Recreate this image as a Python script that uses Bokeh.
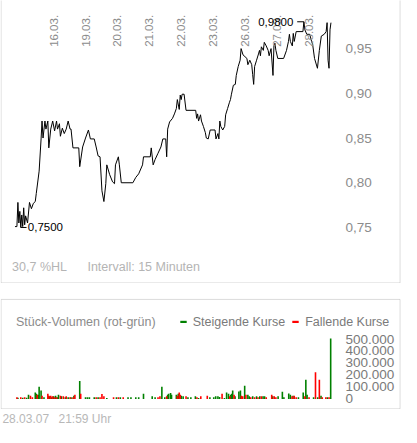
import math
from bokeh.plotting import figure
from bokeh.models import Range1d, ColumnDataSource, Label, BoxAnnotation, Legend, LegendItem
from bokeh.layouts import column
from bokeh.core.properties import value
from bokeh.embed import file_html
from bokeh.resources import INLINE

# ---------------- data ----------------
# time axis: trading-day index (day k starts at k; 16.03. = 1)
day_labels = ["16.03.", "19.03.", "20.03.", "21.03.", "22.03.", "23.03.", "26.03.", "27.03.", "28.03."]
day_pos = [1, 2, 3, 4, 5, 6, 7, 8, 9]

price_t = [-0.212, -0.152, -0.121, -0.091, -0.061, -0.030, 0.000, 0.030, 0.061, 0.091, 0.121, 0.182,
           0.242, 0.303, 0.364, 0.424, 0.455, 0.545, 0.606, 0.636, 0.667, 0.727, 0.758, 0.818, 0.848,
           0.909, 0.970, 1.030, 1.091, 1.121, 1.182, 1.212, 1.273, 1.333, 1.394, 1.455, 1.515, 1.545,
           1.606, 1.788, 1.818, 1.909, 2.000, 2.091, 2.152, 2.273, 2.333, 2.394, 2.455, 2.515, 2.576,
           2.636, 2.667, 2.758, 2.848, 2.909, 2.939, 3.030, 3.061, 3.121, 3.485, 3.576, 3.667, 3.788,
           3.818, 4.030, 4.061, 4.121, 4.182, 4.273, 4.364, 4.424, 4.515, 4.545, 4.576, 4.636, 4.727,
           4.788, 4.848, 4.879, 4.939, 4.970, 5.000, 5.030, 5.091, 5.152, 5.455, 5.485, 5.515, 5.545,
           5.606, 5.636, 5.697, 5.758, 5.788, 5.848, 5.909, 6.061, 6.091, 6.152, 6.182, 6.212, 6.242,
           6.303, 6.364, 6.394, 6.455, 6.515, 6.545, 6.576, 6.636, 6.697, 6.727, 6.788, 6.848, 6.879,
           6.939, 7.000, 7.061, 7.091, 7.152, 7.212, 7.242, 7.273, 7.303, 7.364, 7.424, 7.455, 7.485,
           7.515, 7.576, 7.606, 7.667, 7.727, 7.758, 7.818, 7.879, 7.909, 7.939, 7.970, 8.030, 8.212,
           8.303, 8.364, 8.394, 8.424, 8.485, 8.515, 8.545, 8.606, 8.818, 8.848, 8.879, 8.939, 9.030,
           9.091, 9.121, 9.182, 9.273, 9.333, 9.394, 9.485, 9.545, 9.576, 9.606, 9.636, 9.667, 9.697]
price_v = [0.751, 0.751, 0.778, 0.755, 0.768, 0.750, 0.764, 0.751, 0.772, 0.753, 0.763, 0.755,
           0.778, 0.771, 0.777, 0.779, 0.788, 0.813, 0.849, 0.869, 0.850, 0.869, 0.860, 0.869, 0.839,
           0.860, 0.869, 0.858, 0.869, 0.860, 0.866, 0.852, 0.861, 0.855, 0.860, 0.869, 0.860, 0.860,
           0.839, 0.839, 0.818, 0.840, 0.850, 0.859, 0.849, 0.849, 0.840, 0.830, 0.829, 0.791, 0.779,
           0.799, 0.820, 0.809, 0.801, 0.799, 0.820, 0.829, 0.820, 0.800, 0.800, 0.806, 0.810, 0.820,
           0.829, 0.829, 0.839, 0.820, 0.826, 0.833, 0.840, 0.849, 0.849, 0.829, 0.860, 0.868, 0.872,
           0.877, 0.883, 0.893, 0.882, 0.898, 0.893, 0.899, 0.899, 0.881, 0.881, 0.872, 0.877, 0.869,
           0.876, 0.869, 0.863, 0.856, 0.850, 0.849, 0.859, 0.859, 0.849, 0.855, 0.849, 0.869, 0.863,
           0.859, 0.863, 0.876, 0.883, 0.890, 0.893, 0.899, 0.909, 0.910, 0.920, 0.930, 0.937, 0.950,
           0.943, 0.941, 0.939, 0.932, 0.937, 0.932, 0.921, 0.910, 0.930, 0.937, 0.944, 0.948, 0.942,
           0.952, 0.948, 0.957, 0.953, 0.948, 0.942, 0.950, 0.920, 0.953, 0.956, 0.948, 0.939, 0.939,
           0.948, 0.958, 0.966, 0.958, 0.953, 0.967, 0.958, 0.969, 0.969, 0.980, 0.971, 0.966, 0.966,
           0.958, 0.955, 0.939, 0.928, 0.948, 0.964, 0.966, 0.969, 0.979, 0.937, 0.928, 0.971, 0.979]
price_ticks = [0.75, 0.80, 0.85, 0.90, 0.95]

vol_t = [-0.152, -0.121, -0.030, 0.030, 0.091, 0.152, 0.212, 0.273, 0.333, 0.424, 0.455, 0.485,
         0.515, 0.545, 0.606, 0.636, 0.697, 0.818, 0.848, 0.879, 0.909, 0.939, 0.970, 1.000, 1.030,
         1.061, 1.091, 1.121, 1.152, 1.212, 1.242, 1.303, 1.364, 1.394, 1.455, 1.515, 1.545, 1.606,
         1.636, 1.667, 1.818, 1.848, 2.000, 2.061, 2.121, 2.273, 2.333, 2.394, 2.455, 2.515, 2.576,
         2.667, 2.879, 2.970, 3.030, 3.091, 3.182, 3.333, 3.424, 3.576, 3.667, 3.818, 4.091, 4.182,
         4.273, 4.333, 4.394, 4.485, 4.545, 4.576, 4.606, 4.667, 4.697, 4.848, 4.879, 4.909, 4.939,
         4.970, 5.000, 5.061, 5.152, 5.212, 5.303, 5.445, 5.494, 5.545, 5.615, 5.818, 5.900, 6.021,
         6.082, 6.152, 6.203, 6.282, 6.355, 6.424, 6.485, 6.524, 6.555, 6.585, 6.615, 6.658, 6.688,
         6.809, 6.858, 6.888, 6.930, 6.991, 7.030, 7.091, 7.136, 7.182, 7.242, 7.303, 7.364, 7.409,
         7.464, 7.515, 7.567, 7.615, 7.667, 7.839, 7.870, 7.918, 7.970, 8.039, 8.173, 8.221, 8.373,
         8.424, 8.476, 8.506, 8.545, 8.606, 8.676, 8.827, 8.879, 8.909, 8.948, 9.009, 9.152, 9.212,
         9.282, 9.333, 9.385, 9.424, 9.536, 9.585, 9.636, 9.688]
vol_v = [13000, 10000, 13000, 10000, 13000, 10000, 35000, 27000, 13000, 54000, 43000, 35000,
         35000, 102000, 70000, 27000, 13000, 43000, 27000, 21000, 27000, 13000, 21000, 21000, 13000,
         27000, 13000, 13000, 35000, 27000, 21000, 21000, 13000, 21000, 13000, 13000, 13000, 13000,
         27000, 35000, 150000, 43000, 13000, 13000, 13000, 13000, 13000, 13000, 13000, 40000, 21000,
         8000, 13000, 13000, 13000, 13000, 13000, 13000, 13000, 13000, 13000, 43000, 21000, 13000,
         13000, 21000, 102000, 13000, 21000, 35000, 43000, 50000, 35000, 35000, 27000, 43000, 54000,
         35000, 27000, 21000, 21000, 13000, 13000, 21000, 13000, 8000, 21000, 27000, 13000, 13000,
         21000, 21000, 16000, 43000, 8000, 54000, 43000, 21000, 35000, 43000, 70000, 35000, 21000,
         62000, 70000, 27000, 21000, 110000, 35000, 35000, 21000, 13000, 21000, 13000, 21000, 13000,
         21000, 21000, 21000, 21000, 13000, 35000, 21000, 21000, 13000, 21000, 60000, 13000, 45000,
         35000, 21000, 27000, 27000, 13000, 13000, 54000, 21000, 160000, 35000, 13000, 13000, 223000,
         13000, 160000, 27000, 13000, 13000, 13000, 13000, 505000]
vol_dir = ["r", "g", "r", "g", "r", "g", "g", "r", "r", "g", "g", "r",
           "g", "g", "g", "r", "g", "r", "r", "g", "r", "g", "r", "g", "r",
           "g", "r", "g", "g", "r", "g", "r", "g", "r", "g", "r", "g", "r",
           "g", "r", "g", "r", "g", "g", "g", "g", "r", "g", "r", "r", "r",
           "g", "r", "g", "r", "g", "r", "g", "g", "g", "g", "g", "g", "g",
           "r", "r", "g", "g", "r", "g", "g", "g", "g", "g", "r", "g", "r",
           "r", "g", "g", "r", "g", "g", "g", "r", "g", "r", "r", "g", "g",
           "g", "g", "g", "r", "g", "g", "g", "r", "g", "g", "g", "r", "g",
           "g", "g", "r", "r", "g", "r", "g", "g", "r", "g", "r", "g", "r",
           "g", "r", "g", "g", "r", "r", "g", "r", "r", "g", "g", "g", "g",
           "g", "r", "g", "r", "r", "g", "g", "r", "g", "g", "r", "g", "r",
           "g", "r", "g", "r", "r", "g", "r", "g"]
vol_ticks = [0, 100000, 200000, 300000, 400000, 500000]

vol_title = "Stück-Volumen (rot-grün)"
legend_up = "Steigende Kurse"
legend_down = "Fallende Kurse"
interval_text = "Intervall: 15 Minuten"
stamp_date = "28.03.07"
stamp_time = "21:59 Uhr"

# ---------------- layout helpers (reference pixel -> data) ----------------
W = 401
H1, H2, H3 = 283, 126, 18
S = 0.966
FONT = "Liberation Sans"


def dx(xr):
    return (xr - 22) / 33.0


def py(yr):
    return 0.75 + (235 - yr) / 926.0


def vy(yr):
    return (412.5 - yr) / 62.0 * 500000


def de(v, nd):
    return f"{v:.{nd}f}".replace(".", ",")


xr = Range1d(dx(0), dx(415))

# ---------------- price chart ----------------
p1 = figure(width=W, height=H1, x_range=xr, y_range=Range1d(py(293), py(0)),
            x_axis_type=None, y_axis_type=None, toolbar_location=None,
            output_backend="svg", min_border=0)
p1.min_border_left = p1.min_border_right = p1.min_border_top = p1.min_border_bottom = 0
p1.outline_line_color = None
p1.grid.visible = False

p1.add_layout(BoxAnnotation(left=dx(0.6), right=dx(413.5), bottom=py(292.4), top=py(-30),
                            fill_alpha=0, line_color="#8a8a8a", line_width=1))

p1.line(price_t, price_v, line_color="black", line_width=1)

# day labels (rotated)
p1.text(x=day_pos, y=[py(48)] * len(day_pos), text=day_labels, angle=math.pi / 2,
        text_align="left", text_baseline="middle", text_color="#8c8c8c",
        text_font=value(FONT), text_font_size=value("11.5px"))

# price tick labels
p1.text(x=[dx(357)] * len(price_ticks), y=price_ticks, text=[de(v, 2) for v in price_ticks],
        text_align="left", text_baseline="middle", text_color="#8c8c8c",
        text_font=value(FONT), text_font_size=value("13.5px"))

# min / max markers
i_min = min(range(len(price_v)), key=lambda i: price_v[i])
i_max = max(range(len(price_v)), key=lambda i: price_v[i])
t_min, v_min = price_t[i_min], price_v[i_min]
t_max, v_max = price_t[i_max], price_v[i_max]
p1.segment(x0=[t_min, t_max - 0.21], y0=[v_min, v_max], x1=[t_min + 0.18, t_max], y1=[v_min, v_max],
           line_color="black", line_width=1)
p1.add_layout(Label(x=t_min, y=v_min, x_offset=7, text=de(v_min, 4), text_baseline="middle",
                    text_align="left", text_color="black", text_font=FONT, text_font_size="11.5px"))
p1.add_layout(Label(x=t_max, y=v_max, x_offset=-10.5, text=de(v_max, 4), text_baseline="middle",
                    text_align="right", text_color="black", text_font=FONT, text_font_size="11.5px"))

hl = (v_max - v_min) / v_min * 100
p1.add_layout(Label(x=12 * S, y=(293 - 276) * S, x_units="screen", y_units="screen",
                    text=de(hl, 1) + " %HL", text_baseline="middle", text_color="#b4b4b4",
                    text_font=FONT, text_font_size="12.5px"))
p1.add_layout(Label(x=90 * S, y=(293 - 276) * S, x_units="screen", y_units="screen",
                    text=interval_text, text_baseline="middle", text_color="#b4b4b4",
                    text_font=FONT, text_font_size="12.5px"))

# ---------------- volume chart ----------------
p2 = figure(width=W, height=H2, x_range=xr, y_range=Range1d(vy(423.5), vy(293)),
            x_axis_type=None, y_axis_type=None, toolbar_location=None,
            output_backend="svg", min_border=0)
p2.min_border_left = p2.min_border_right = p2.min_border_top = p2.min_border_bottom = 0
p2.outline_line_color = None
p2.grid.visible = False

p2.add_layout(BoxAnnotation(left=dx(0.6), right=dx(413.5), bottom=vy(422.8), top=vy(309.5),
                            fill_alpha=0, line_color="#8a8a8a", line_width=1))

up = ColumnDataSource(dict(t=[t for t, d in zip(vol_t, vol_dir) if d == "g"],
                           v=[v for v, d in zip(vol_v, vol_dir) if d == "g"]))
dn = ColumnDataSource(dict(t=[t for t, d in zip(vol_t, vol_dir) if d == "r"],
                           v=[v for v, d in zip(vol_v, vol_dir) if d == "r"]))
r_up = p2.vbar(x="t", top="v", bottom=0, width=0.05, source=up, fill_color="#008000", line_color=None)
r_dn = p2.vbar(x="t", top="v", bottom=0, width=0.05, source=dn, fill_color="#ff0000", line_color=None)

p2.text(x=[dx(357)] * len(vol_ticks), y=vol_ticks,
        text=[f"{v:,}".replace(",", ".") for v in vol_ticks],
        text_align="left", text_baseline="middle", text_color="#7a7a7a",
        text_font=value(FONT), text_font_size=value("13.5px"))

p2.add_layout(Label(x=16 * S, y=(423.5 - 333) * S, x_units="screen", y_units="screen",
                    text=vol_title, text_baseline="middle", text_color="#8c8c8c",
                    text_font=FONT, text_font_size="12.5px"))

legend = Legend(items=[LegendItem(label=legend_up, renderers=[r_up]),
                       LegendItem(label=legend_down, renderers=[r_dn])],
                orientation="horizontal", location=(185 * S, (423.5 - 333) * S - 7),
                glyph_width=8, glyph_height=3, label_height=14, label_standoff=6, spacing=6,
                padding=0, margin=0, border_line_color=None, background_fill_alpha=0,
                label_text_font=FONT, label_text_font_size="12.5px", label_text_color="#7a7a7a")
p2.add_layout(legend)

# ---------------- footer ----------------
p3 = figure(width=W, height=H3, x_range=Range1d(0, 1), y_range=Range1d(0, 1),
            x_axis_type=None, y_axis_type=None, toolbar_location=None,
            output_backend="svg", min_border=0)
p3.min_border_left = p3.min_border_right = p3.min_border_top = p3.min_border_bottom = 0
p3.outline_line_color = None
p3.grid.visible = False
p3.add_layout(Label(x=2 * S, y=9, x_units="screen", y_units="screen", text=stamp_date,
                    text_baseline="middle", text_color="#b8b8b8", text_font=FONT,
                    text_font_size="12px"))
p3.add_layout(Label(x=60 * S, y=9, x_units="screen", y_units="screen", text=stamp_time,
                    text_baseline="middle", text_color="#b8b8b8", text_font=FONT,
                    text_font_size="12px"))

layout = column(p1, p2, p3, spacing=0)
open("out.html", "w").write(file_html(layout, INLINE))
